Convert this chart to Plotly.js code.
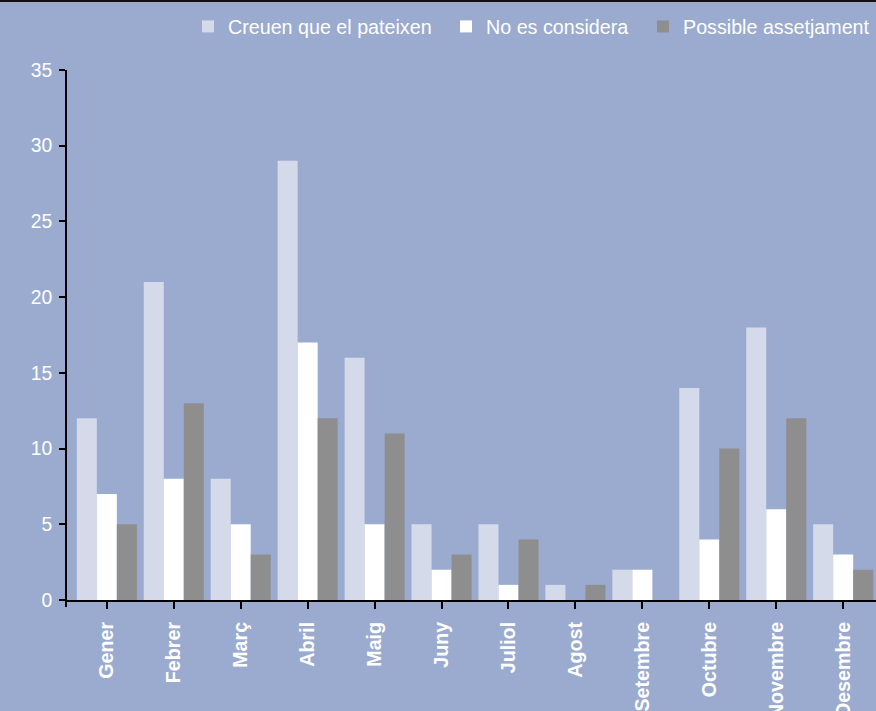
<!DOCTYPE html>
<html>
<head>
<meta charset="utf-8">
<script src="https://cdn.plot.ly/plotly-3.0.1.min.js"></script>
<style>
  html, body { margin: 0; padding: 0; background: #9AABCF; }
  #chart { width: 876px; height: 711px; }
</style>
</head>
<body>
<div id="chart"></div>
<script>
// Monthly counts per category
const months = ['Gener', 'Febrer', 'Març', 'Abril', 'Maig', 'Juny', 'Juliol',
                'Agost', 'Setembre', 'Octubre', 'Novembre', 'Desembre'];
const creuenQueElPateixen = [12, 21, 8, 29, 16, 5, 5, 1, 2, 14, 18, 5];
const noEsConsidera       = [7, 8, 5, 17, 5, 2, 1, 0, 2, 4, 6, 3];
const possibleAssetjament = [5, 13, 3, 12, 11, 3, 4, 1, 0, 10, 12, 2];
const yTicks = [0, 5, 10, 15, 20, 25, 30, 35];

const FONT = 'Liberation Sans, Arial, Helvetica, sans-serif';
const BG = '#9AABCF';
const W = 876, H = 711;

const series = [
  { name: 'Creuen que el pateixen', y: creuenQueElPateixen, color: '#D5DAEB', legend: 'legend',  left: 188 },
  { name: 'No es considera',        y: noEsConsidera,       color: '#FFFFFF', legend: 'legend2', left: 446 },
  { name: 'Possible assetjament',   y: possibleAssetjament, color: '#8E8E8E', legend: 'legend3', left: 643 }
];

const traces = series.map(s => ({
  type: 'bar',
  name: s.name,
  x: months,
  y: s.y,
  legend: s.legend,
  marker: { color: s.color, line: { width: 0 } },
  hoverinfo: 'x+y+name'
}));

// one single-entry legend per series, laid out in a row along the top
function legendAt(leftPx) {
  return {
    orientation: 'h',
    xref: 'container', yref: 'container',
    x: leftPx / W, xanchor: 'left',
    y: 0.99, yanchor: 'top',
    bgcolor: 'rgba(0,0,0,0)',
    borderwidth: 0,
    font: { family: FONT, size: 19.7, color: '#FFFFFF' }
  };
}

const layout = {
  width: W,
  height: H,
  paper_bgcolor: BG,
  plot_bgcolor: BG,
  margin: { l: 67, r: 0, t: 70, b: 111, pad: 0 },
  barmode: 'group',
  bargap: 0.103,
  bargroupgap: 0,
  font: { family: FONT, color: '#FFFFFF', size: 19 },
  showlegend: true,
  legend: legendAt(series[0].left),
  legend2: legendAt(series[1].left),
  legend3: legendAt(series[2].left),
  xaxis: {
    type: 'category',
    range: [-0.595, 11.49],
    showgrid: false,
    zeroline: false,
    showline: true,
    linecolor: '#000000',
    linewidth: 2,
    ticks: 'outside',
    ticklen: 7,
    tickwidth: 2,
    tickcolor: '#000000',
    tickangle: -90,
    ticklabelstandoff: 5,
    tickfont: { family: FONT, size: 19.7, color: '#FFFFFF', weight: 'bold' },
    fixedrange: true
  },
  yaxis: {
    range: [0, 35],
    tickvals: yTicks,
    ticktext: yTicks.map(String),
    showgrid: false,
    zeroline: false,
    showline: true,
    linecolor: '#000000',
    linewidth: 2,
    ticks: 'outside',
    ticklen: 6,
    tickwidth: 2,
    tickcolor: '#000000',
    ticklabelstandoff: 3,
    tickfont: { family: FONT, size: 19.3, color: '#FFFFFF' },
    fixedrange: true
  },
  shapes: [
    // dark rule along the top edge of the figure
    { type: 'rect', xref: 'paper', yref: 'paper', layer: 'above',
      x0: -0.1, x1: 1.1, y0: 1 + 68 / 530, y1: 1 + 75 / 530,
      fillcolor: '#111111', line: { width: 0 } },
    // y-axis line carried just below the x axis at the corner
    { type: 'line', xref: 'paper', yref: 'paper', layer: 'above',
      x0: -1 / 809, x1: -1 / 809, y0: 0, y1: -7 / 530,
      line: { color: '#000000', width: 2 } }
  ]
};

Plotly.newPlot('chart', traces, layout, { displayModeBar: false, staticPlot: true });
</script>
</body>
</html>
